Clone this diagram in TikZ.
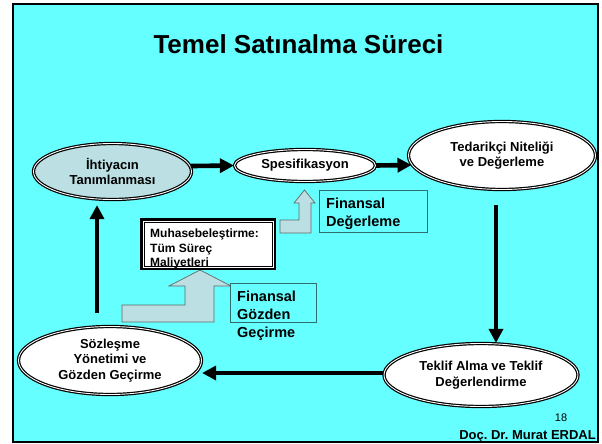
\documentclass[tikz,border=0pt]{standalone}
\usepackage{fontspec}
\setmainfont{Liberation Sans}
\usetikzlibrary{shapes.geometric,arrows.meta}
\definecolor{bgcyan}{HTML}{66FFFF}
\definecolor{lightfill}{HTML}{BCDFE3}
\definecolor{boxedge}{HTML}{2F6F6F}
\definecolor{arredge}{HTML}{606868}
\frenchspacing
\begin{document}
\begin{tikzpicture}[x=1pt,y=-1pt,
  proc/.style={ellipse, draw=black, line width=1.2pt, double=white, double distance=0.9pt,
    fill=white, inner sep=0pt, align=center, text=black,
    font=\bfseries\fontsize{13}{15.5}\selectfont},
  flow/.style={line width=4.6pt, -{Triangle[length=14pt,width=14pt]}},
  finbox/.style={draw=boxedge, line width=0.8pt, fill=bgcyan},
  fintext/.style={anchor=north west, align=left, inner sep=0pt, text=black,
    font=\bfseries\fontsize{14.5}{18}\selectfont},
  blockarrow/.style={fill=lightfill, draw=arredge, line width=0.7pt, line join=miter}
]
\useasboundingbox (0,0) rectangle (602,444);
\fill[white] (0,0) rectangle (602,444);
\draw[fill=bgcyan, line width=1.6pt] (13,4) rectangle (598,442);

\node[anchor=base, inner sep=0pt, font=\bfseries\fontsize{26}{30}\selectfont] (title) at (298.5,53) {Temel Satınalma Süreci};

% block arrows
\draw[blockarrow] (122,322) -- (122,305) -- (185,305) -- (185,286) -- (169,286) -- (200,270)
  -- (231,286) -- (214,286) -- (214,322) -- cycle;
\draw[blockarrow] (280,233) -- (280,220) -- (299,220) -- (299,203) -- (294,203) -- (304.5,190)
  -- (315,203) -- (311,203) -- (311,233) -- cycle;

% process ellipses
\node[proc, fill=lightfill, minimum width=158pt, minimum height=56pt] (ihtiyac) at (112.5,171.5) {İhtiyacın\\Tanımlanması};
\node[proc, minimum width=141pt, minimum height=32pt] (spes) at (305,165.5) {Spesifikasyon};
\node[proc, minimum width=187pt, minimum height=68pt] (tedarik) at (502,155.5) {Tedarikçi Niteliği\\ve Değerleme};
\node[proc, minimum width=194pt, minimum height=63pt] (teklif) at (481,375) {Teklif Alma ve Teklif\\Değerlendirme};
\node[proc, minimum width=183pt, minimum height=68pt] (sozlesme) at (110,360.5) {Sözleşme\\Yönetimi ve\\Gözden Geçirme};

% Muhasebe box
\draw[fill=white, line width=2.5pt] (141.25,219.25) rectangle (274.75,268.75);
\node[anchor=north west, align=left, inner sep=0pt, text=black,
  font=\bfseries\fontsize{12}{14.5}\selectfont] (muhasebe) at (150,228.7) {Muhasebeleştirme:\\Tüm Süreç\\Maliyetleri};
\draw[line width=0.6pt] (143.8,221.8) rectangle (272.2,266.2);

% Finansal boxes
\draw[finbox] (319,190) rectangle (427,232);
\node[fintext] (findeg) at (326,197.8) {Finansal\\Değerleme};
\draw[finbox] (230,283.5) rectangle (316,322);
\node[fintext] (fingoz) at (237,290.8) {Finansal\\Gözden\\Geçirme};

% connectors
\coordinate (dstart) at (496,205);
\coordinate (ustart) at (97,313);
\path ([yshift=-5pt]ihtiyac.south) coordinate (ib);
\draw[flow] (ihtiyac.4) -- (spes.west);
\draw[flow] (spes.east) -- (tedarik.186);
\draw[flow] (dstart) -- (dstart |- teklif.north);
\draw[flow] (teklif.west |- 0,373) -- (sozlesme.east |- 0,373);
\draw[flow] (ustart) -- (ustart |- ib);

% footer
\node[anchor=base, inner sep=0pt, font=\fontsize{11}{13}\selectfont] (page) at (561,421) {18};
\node[anchor=base east, inner sep=0pt, font=\bfseries\fontsize{13}{15}\selectfont] (author) at (596,439.5) {Doç. Dr. Murat ERDAL};
\end{tikzpicture}
\end{document}
